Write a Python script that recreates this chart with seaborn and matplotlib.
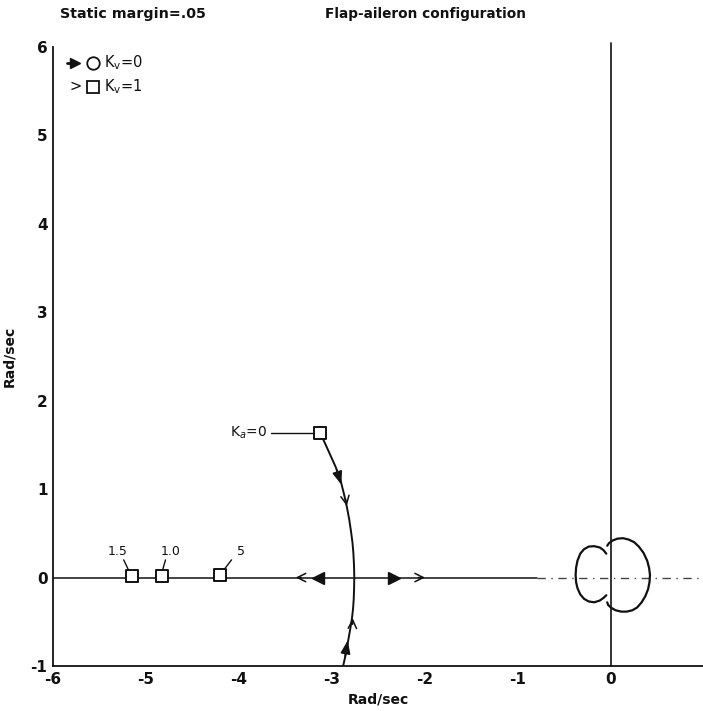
import numpy as np
import pandas as pd
import matplotlib
matplotlib.use("Agg")
import matplotlib.pyplot as plt
import seaborn as sns

locus_re = [-3.13, -3.08, -3.02, -2.96, -2.91, -2.87, -2.84, -2.815, -2.795, -2.78, -2.77, -2.763, -2.76,
            -2.762, -2.766, -2.773, -2.785, -2.80, -2.815, -2.83, -2.85, -2.88]
locus_im = [1.64, 1.53, 1.39, 1.25, 1.11, 0.94, 0.80, 0.66, 0.52, 0.40, 0.28, 0.14, 0.01,
            -0.12, -0.24, -0.35, -0.46, -0.56, -0.65, -0.74, -0.86, -1.00]

# small loops around the origin
left_re = [-0.05, -0.08, -0.12, -0.18, -0.24, -0.29, -0.33, -0.36, -0.375, -0.38, -0.375, -0.36, -0.33,
           -0.29, -0.24, -0.18, -0.12, -0.08, -0.05]
left_im = [0.27, 0.31, 0.34, 0.355, 0.35, 0.32, 0.27, 0.19, 0.11, 0.03, -0.05, -0.12, -0.19,
           -0.24, -0.27, -0.28, -0.26, -0.23, -0.20]
right_re = [-0.04, -0.02, 0.02, 0.07, 0.13, 0.19, 0.25, 0.30, 0.35, 0.39, 0.41, 0.42, 0.415, 0.40,
            0.37, 0.33, 0.28, 0.23, 0.17, 0.11, 0.05, 0.00, -0.03, -0.04]
right_im = [0.36, 0.39, 0.42, 0.44, 0.445, 0.43, 0.40, 0.35, 0.28, 0.19, 0.11, 0.03, -0.05, -0.13,
            -0.21, -0.28, -0.34, -0.37, -0.385, -0.385, -0.37, -0.34, -0.31, -0.28]

# gain points (squares) with labels
gain_labels = ["1.5", "1.0", "5"]
gain_re = [-5.15, -4.83, -4.20]
gain_im = [0.02, 0.02, 0.03]
start_re, start_im = -3.13, 1.64

x_ticks = [-6, -5, -4, -3, -2, -1, 0]
y_ticks = [-1, 0, 1, 2, 3, 4, 5, 6]

sns.set_style("white")
plt.rcParams["font.family"] = ["DejaVu Sans"]

fig = plt.figure(figsize=(7.03, 7.11), dpi=100)
ax = fig.add_axes([0.0754, 0.0633, 0.9246, 0.8707])
ax.set_xlim(-6, 0.99)
ax.set_ylim(-1, 6)

ink = "#111111"

# axes lines
ax.plot([-6, -0.8], [0, 0], color=ink, lw=1.1)
ax.plot([-0.8, 0.99], [0, 0], color="#444444", lw=1.0, ls=(0, (6, 4, 1, 4)))
ax.plot([0, 0], [-1, 6.05], color=ink, lw=1.2, clip_on=False)

# locus branches (path order kept, no aggregation)
line_kw = dict(sort=False, estimator=None, errorbar=None, color=ink, ax=ax)
df = pd.DataFrame({"re": locus_re, "im": locus_im})
sns.lineplot(data=df, x="re", y="im", lw=1.4, **line_kw)
sns.lineplot(x=left_re, y=left_im, lw=1.6, **line_kw)
sns.lineplot(x=right_re, y=right_im, lw=1.6, **line_kw)

# squares
pts = pd.DataFrame({"re": gain_re + [start_re], "im": gain_im + [start_im]})
sns.scatterplot(data=pts, x="re", y="im", marker="s", s=70, facecolor="white",
                edgecolor=ink, linewidth=1.4, zorder=5, ax=ax)

# labels of gain points with leader lines
lab_pos = [(-5.30, 0.30), (-4.74, 0.30), (-3.98, 0.30)]
lead = [((-5.24, 0.20), (-5.19, 0.09)), ((-4.79, 0.20), (-4.82, 0.09)), ((-4.08, 0.20), (-4.16, 0.09))]
for lab, (tx, ty), (p0, p1) in zip(gain_labels, lab_pos, lead):
    ax.text(tx, ty, lab, fontsize=9, ha="center", va="center", color=ink)
    ax.plot([p0[0], p1[0]], [p0[1], p1[1]], color=ink, lw=1)

ax.text(-3.70, start_im, "K$_a$=0", fontsize=10, ha="right", va="center", color=ink)
ax.plot([-3.66, start_re - 0.06], [start_im, start_im], color=ink, lw=1)

# filled arrows on the real axis
filled = [(-3.15, 0.0, "<"), (-2.33, 0.0, ">")]
for x, y, m in filled:
    ax.plot(x, y, marker=m, ms=9, color=ink, mec=ink)

def open_arrow(tail, tip):
    ax.annotate("", xy=tip, xytext=tail,
                arrowprops=dict(arrowstyle="->,head_length=0.6,head_width=0.3", color=ink, lw=1.1))

def solid_arrow(tail, tip):
    ax.annotate("", xy=tip, xytext=tail,
                arrowprops=dict(arrowstyle="-|>,head_length=0.8,head_width=0.3", color=ink, lw=1.1))

open_arrow((-3.30, 0.0), (-3.42, 0.0))
open_arrow((-2.10, 0.0), (-1.97, 0.0))
solid_arrow((-2.96, 1.25), (-2.89, 1.02))
open_arrow((-2.86, 0.92), (-2.835, 0.78))
open_arrow((-2.78, -0.56), (-2.775, -0.43))
solid_arrow((-2.865, -0.92), (-2.825, -0.68))

# legend-like key
ax.plot(-5.76, 5.82, marker=">", ms=7, color=ink)
ax.plot([-5.85, -5.76], [5.82, 5.82], color=ink, lw=2)
ax.plot(-5.57, 5.82, marker="o", ms=9, mfc="white", mec=ink, mew=1.3)
ax.text(-5.45, 5.82, "K$_\\mathrm{v}$=0", fontsize=10.5, va="center", color=ink)
ax.text(-5.76, 5.55, ">", fontsize=10.5, va="center", ha="center", color=ink)
ax.plot(-5.57, 5.55, marker="s", ms=9, mfc="white", mec=ink, mew=1.3)
ax.text(-5.45, 5.55, "K$_\\mathrm{v}$=1", fontsize=10.5, va="center", color=ink)

# spines and ticks
sns.despine(ax=ax, top=True, right=True)
for s in ["left", "bottom"]:
    ax.spines[s].set_color(ink)
    ax.spines[s].set_linewidth(1.3)
ax.set_xticks(x_ticks)
ax.set_yticks(y_ticks)
ax.set_xticklabels([str(t) for t in x_ticks], fontsize=11, fontweight="bold", color=ink)
ax.set_yticklabels([str(t) for t in y_ticks], fontsize=11, fontweight="bold", color=ink)
ax.tick_params(direction="in", length=6, width=1.1, color=ink, pad=4)
ax.set_xlabel("Rad/sec", fontsize=10, fontweight="bold", labelpad=4, color=ink)
ax.set_ylabel("Rad/sec", fontsize=10, fontweight="bold", labelpad=10, color=ink)

fig.text(60 / 703, 1 - 14 / 711, "Static margin=.05", fontsize=10.3, fontweight="bold", va="center", color=ink)
fig.text(325 / 703, 1 - 14 / 711, "Flap-aileron configuration", fontsize=9.8, fontweight="bold", va="center", color=ink)

fig.savefig("out.png", dpi=100)
